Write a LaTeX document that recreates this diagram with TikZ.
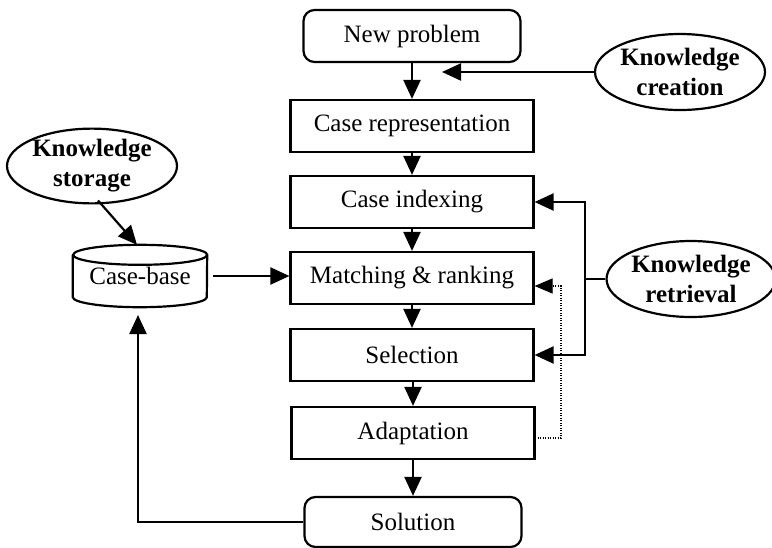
\documentclass[tikz,border=0pt]{standalone}
\usepackage{fontspec}
\setmainfont{Liberation Serif}
\usetikzlibrary{arrows.meta,shapes.geometric}
\begin{document}
\begin{tikzpicture}[x=1pt,y=-1pt,
  every node/.style={font=\fontsize{25pt}{30pt}\selectfont, inner sep=0pt},
  line/.style={line width=2.2pt, line join=miter},
  arr/.style={line, -{Triangle[length=19pt,width=17pt]}},
  dotarr/.style={line width=1.2pt, dash pattern=on 1.2pt off 1.3pt, -{Triangle[length=18pt,width=15pt]}},
  stepbox/.style={draw, line width=2.2pt, minimum width=243pt, minimum height=52pt},
  endbox/.style={draw, line width=2.2pt, rounded corners=11pt, minimum width=217pt, minimum height=52pt},
  knowl/.style={draw, ellipse, line width=2.2pt, align=center, font=\fontsize{25pt}{30pt}\selectfont\bfseries}]
\useasboundingbox (0,0) rectangle (772,547);

% main process column
\node[endbox]  (np)  at (412,36)  {New problem};
\node[stepbox] (cr)  at (412,126) {Case representation};
\node[stepbox] (ci)  at (412,202) {Case indexing};
\node[stepbox] (mr)  at (412,278) {Matching \& ranking};
\node[stepbox] (sel) at (412,355) {Selection};
\node[stepbox] (ad)  at (413,433) {Adaptation};
\node[endbox, minimum height=50pt] (sol) at (413,522) {Solution};

% knowledge activities
\node[knowl, minimum width=170pt, minimum height=76pt] (kc) at (680,72)  {Knowledge\\creation};
\node[knowl, minimum width=170pt, minimum height=68pt] (ks) at (92,166)  {Knowledge\\storage};
\node[knowl, minimum width=164pt, minimum height=76pt] (kr) at (691,279) {Knowledge\\retrieval};

% case base drawn as a cylinder
\node[minimum width=134pt, minimum height=62pt] (cb) at (140,276) {Case-base};
\draw[line] ([yshift=-10pt]cb.north west) -- ([yshift=10pt]cb.south west)
  arc[start angle=180, end angle=360, x radius=67pt, y radius=10pt]
  -- ([yshift=-10pt]cb.north east)
  arc[start angle=0, end angle=360, x radius=67pt, y radius=10pt];

% flow between steps
\draw[arr] (np.south -| cr.north) -- (cr.north);
\draw[arr] (cr.south) -- (ci.north);
\draw[arr] (ci.south) -- (mr.north);
\draw[arr] (mr.south) -- (sel.north);
\draw[arr] (sel.south -| ad.north) -- (ad.north);
\draw[arr] (ad.south) -- (sol.north -| ad.south);

% knowledge creation feeds the problem description
\coordinate (kcend) at (442,72);
\draw[arr] (kc.west) -- (kcend);

% storage into the case base, case base into matching
\draw[arr] ([xshift=6pt,yshift=4pt]ks.south) -- ([xshift=-3pt]cb.north);
\draw[arr] ([xshift=6pt]cb.east) -- (mr.west |- cb.east);

% solution returned to the case base
\coordinate (cbin) at (138,315);
\draw[arr] (sol.west) -| (cbin);

% retrieval feeds indexing and selection
\coordinate (krj) at (585,279);
\draw[line] (kr.west) -- (krj);
\draw[arr] (krj) |- (ci.east);
\draw[arr] (krj) |- (sel.east);

% adaptation loops back to matching
\coordinate (dt) at (561,286);
\draw[dotarr] ([xshift=2pt,yshift=-5pt]ad.east) -| (dt) -- ([yshift=-8pt]mr.east);
\end{tikzpicture}
\end{document}
